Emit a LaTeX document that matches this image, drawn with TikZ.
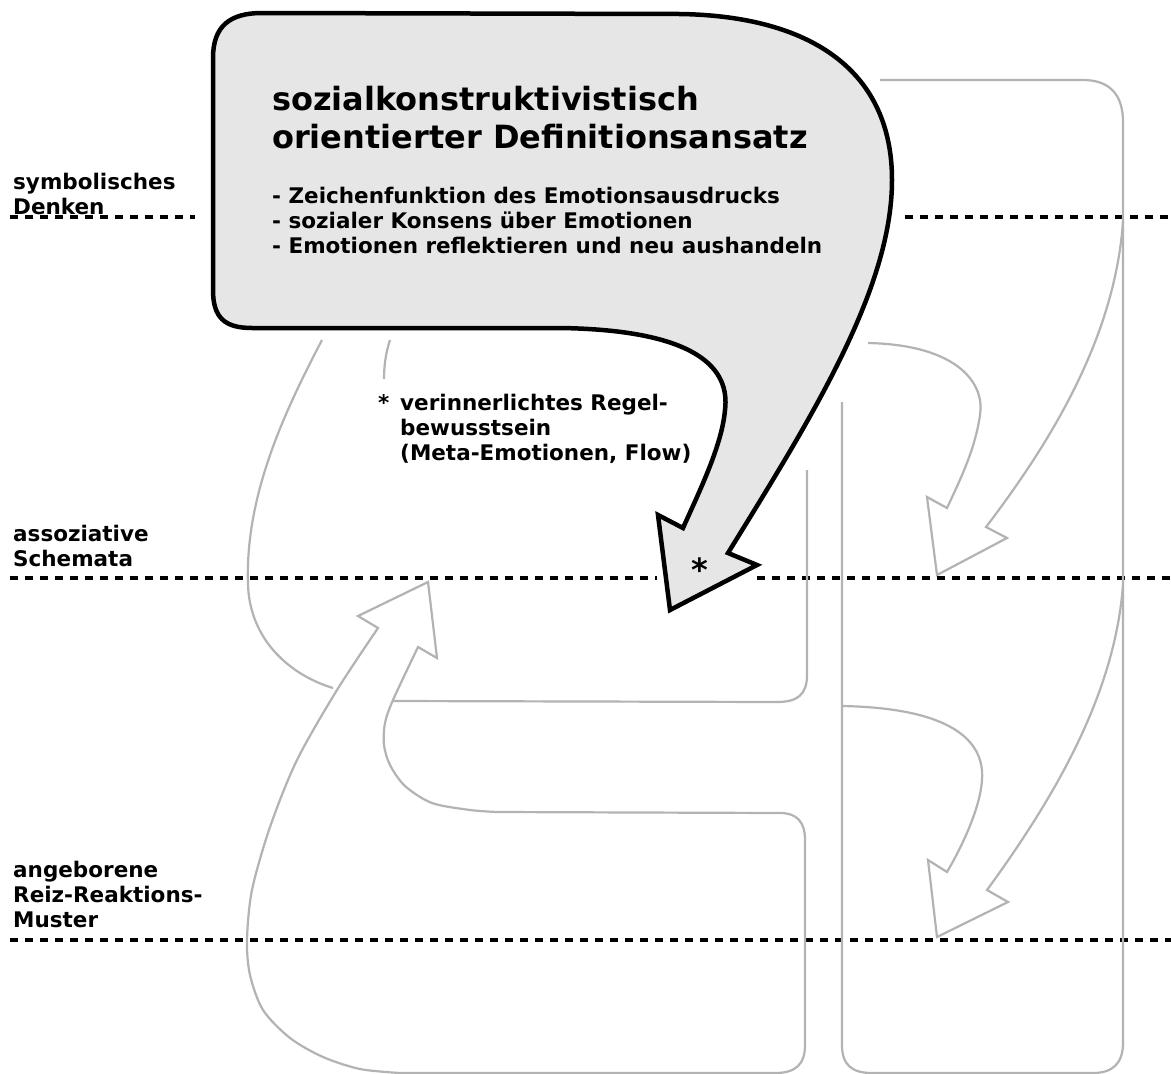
\documentclass[tikz,border=0pt]{standalone}
\usepackage{fontspec}
\setmainfont{DejaVu Sans}
\definecolor{boxfill}{HTML}{E6E6E6}
\definecolor{linegrey}{HTML}{B3B3B3}
\tikzset{
  levelline/.style={line width=3.8pt, dash pattern=on 8pt off 7pt},
  greyline/.style={draw=linegrey, line width=2.2pt},
  bigcallout/.style={draw=black, fill=boxfill, line width=4.5pt},
  smalltext/.style={inner sep=0pt, font=\fontsize{21.5}{25}\selectfont\bfseries},
  bigtext/.style={inner sep=0pt, font=\fontsize{32}{38}\selectfont\bfseries}
}
\begin{document}
\begin{tikzpicture}[x=1pt,y=-1pt]
\useasboundingbox (0,0) rectangle (1171,1074);
\fill[white] (0,0) rectangle (1171,1074);

% level boundaries
\draw[levelline] (10,217) -- (195,217);
\draw[levelline] (905,217) -- (1171,217);
\draw[levelline] (10,578) -- (657,578);
\draw[levelline] (757,578) -- (1171,578);
\draw[levelline] (10,940) -- (1171,940);

% grey background arrows
\draw[greyline] (322,340) .. controls (280,420) and (245,500) .. (248,585)
  .. controls (250,640) and (290,675) .. (333,688);
\draw[greyline] (390,340) .. controls (386,352) and (384,365) .. (384,379);

% upward U-arrow on the left
\draw[greyline, line join=miter] (378,628) -- (358,616) -- (428,582) -- (437,658) -- (418,647)
  -- plot[smooth] coordinates {(418,647) (393,700) (385,723) (384,745) (390,765) (405,786) (432,803) (470,810) (497,812)}
  -- (780,813) .. controls (797,813) and (805,822) .. (805,840)
  -- (805,1045) .. controls (805,1065) and (795,1073) .. (775,1073)
  -- (400,1073)
  -- plot[smooth] coordinates {(400,1073) (360,1069) (323,1057) (290,1038) (263,1010) (250,975) (247,940) (252,890) (270,827) (297,760) (337,690) (378,628)}
  -- cycle;

% middle band
\draw[greyline] (393,701) -- (777,702) .. controls (797,702) and (807,695) .. (807,675) -- (807,470);

% right column
\draw[greyline] (842,402) -- (842,1045) .. controls (842,1065) and (852,1073) .. (872,1073)
  -- (1093,1073) .. controls (1113,1073) and (1123,1063) .. (1123,1043)
  -- (1123,122) .. controls (1123,95) and (1110,80) .. (1083,80) -- (880,80);

% upper right arrow
\draw[greyline, line join=miter] (868,343) .. controls (960,345) and (985,385) .. (980,415)
  .. controls (975,450) and (960,480) .. (947,508)
  -- (927,497) -- (937,575) -- (1007,538) -- (986,527)
  .. controls (1060,430) and (1115,330) .. (1123,222);

% lower right arrow
\draw[greyline, line join=miter] (842,706) .. controls (950,708) and (985,740) .. (982,780)
  .. controls (980,810) and (960,850) .. (947,872)
  -- (928,860) -- (937,937) -- (1008,902) -- (987,890)
  .. controls (1060,790) and (1115,690) .. (1123,585);

% callout with arrow
\draw[bigcallout] (213,290) -- (213,58) .. controls (213,26) and (230,13) .. (262,13) -- (680,14)
  .. controls (810,16) and (892,70) .. (892,180)
  .. controls (892,290) and (810,420) .. (728,553)
  -- (757,565) -- (670,610) -- (658,515) -- (683,528)
  .. controls (700,490) and (722,445) .. (725,410)
  .. controls (730,370) and (700,330) .. (560,328)
  -- (252,328) .. controls (225,328) and (213,318) .. (213,290) -- cycle;

% texts
\node[bigtext, anchor=base west] (title) at (272,110)
  {\begin{tabular}[t]{@{}l@{}}sozialkonstruktivistisch\\orientierter Definitionsansatz\end{tabular}};
\node[smalltext, anchor=base west] (points) at (272,203)
  {\begin{tabular}[t]{@{}l@{}}- Zeichenfunktion des Emotionsausdrucks\\- sozialer Konsens über Emotionen\\- Emotionen reflektieren und neu aushandeln\end{tabular}};

\node[smalltext, anchor=base west] (lvlsym) at (13,189)
  {\begin{tabular}[t]{@{}l@{}}symbolisches\\Denken\end{tabular}};
\node[smalltext, anchor=base west] (lvlass) at (13,541)
  {\begin{tabular}[t]{@{}l@{}}assoziative\\Schemata\end{tabular}};
\node[smalltext, anchor=base west] (lvlinn) at (13,877)
  {\begin{tabular}[t]{@{}l@{}}angeborene\\Reiz-Reaktions-\\Muster\end{tabular}};

\node[smalltext, anchor=base west] (notestar) at (378,410) {*};
\node[smalltext, anchor=base west] (note) at (400,410)
  {\begin{tabular}[t]{@{}l@{}}verinnerlichtes Regel-\\bewusstsein\\(Meta-Emotionen, Flow)\end{tabular}};
\node[bigtext, anchor=base] (arrowstar) at (700,581) {*};
\end{tikzpicture}
\end{document}
